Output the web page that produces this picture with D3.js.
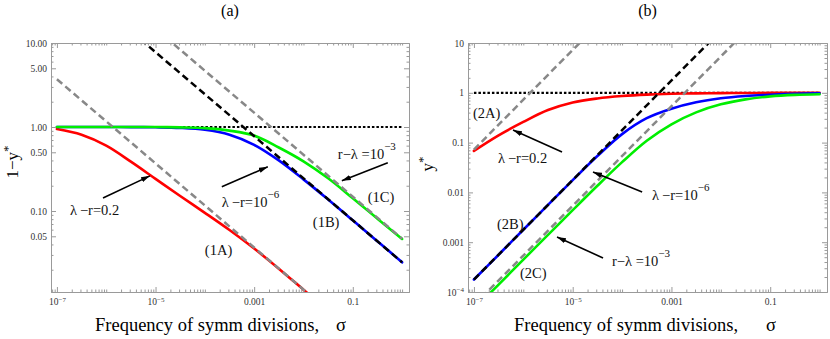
<!DOCTYPE html>
<html>
<head>
<meta charset="utf-8">
<script src="https://cdn.jsdelivr.net/npm/d3@7"></script>
<style>
  body { margin: 0; background: #fff; }
  text { font-family: "Liberation Serif", "Times New Roman", serif; }
</style>
</head>
<body>
<script>
// sample points along sigma (half decades)
const sigma = [1e-7, 3.16e-7, 1e-6, 3.16e-6, 1e-5, 3.16e-5, 1e-4, 3.16e-4,
  1e-3, 3.16e-3, 1e-2, 3.16e-2, 0.1, 0.316, 1];

// panel (a): 1 - y*
const redA = [0.946, 0.809, 0.600, 0.387, 0.2415, 0.1507, 0.0951, 0.0593, 0.0357, 0.0206, 0.01156, 0.0065, null, null, null];
const blueA = [1.0, 0.9997, 0.9992, 0.9974, 0.992, 0.975, 0.926, 0.81, 0.613, 0.40, 0.238, 0.137, 0.0775, 0.0436, 0.0245];
const greenA = [1.0, 1.0, 1.0, 1.0, 0.9996, 0.99, 0.97, 0.905, 0.79, 0.57, 0.39, 0.245, 0.142, 0.081, 0.0465];
const asym1A = [[1e-7, 3.7], [0.02, 0.0082]];
const asym1B = [[5e-6, 11.0], [1, 0.0245]];
const asym1C = [[1.6e-5, 11.7], [1, 0.0468]];

// panel (b): y*
const redB = [0.068, 0.14, 0.26, 0.45, 0.64, 0.77, 0.86, 0.92, 0.955, 0.975, 0.986, 0.992, 0.995, 0.997, 0.998];
const blueB = [1.78e-4, 5.6e-4, 1.78e-3, 5.6e-3, 0.0176, 0.0537, 0.148, 0.309, 0.479, 0.645, 0.776, 0.861, 0.916, 0.955, 0.98];
const greenB = [4.5e-5, 1.41e-4, 4.47e-4, 1.4e-3, 4.4e-3, 0.0136, 0.0405, 0.109, 0.233, 0.405, 0.586, 0.738, 0.847, 0.908, 0.935];
const asym2A = [[1e-7, 0.0724], [1.6e-5, 11.6]];
const asym2B = [[1e-7, 1.78e-4], [0.0065, 11.5]];
const asym2C = [[1e-7, 5.4e-5], [0.02, 10.7]];

const unitLine = [[1e-7, 1], [1, 1]];

// tick labels
const xTicks = [1e-7, 1e-5, 1e-3, 0.1];
const xTickLabels = ["10^−7", "10^−5", "0.001", "0.1"];
const yTicksA = [10, 5, 1, 0.5, 0.1, 0.05];
const yTickLabelsA = ["10.00", "5.00", "1.00", "0.50", "0.10", "0.05"];
const yTicksB = [10, 1, 0.1, 0.01, 0.001, 1e-4];
const yTickLabelsB = ["10", "1", "0.1", "0.01", "0.001", "10^−4"];

// annotations, in data coordinates
const notesA = [
  { at: [1.84e-7, 0.0896], text: "λ\u2009−r=0.2" },
  { at: [2.21e-4, 0.1117], text: "λ\u2009−r=10", sup: "−6" },
  { at: [0.0497, 0.42], text: "r−λ =10", sup: "−3" },
  { at: [1e-4, 0.0297], text: "(1A)" },
  { at: [0.0155, 0.0643], text: "(1B)" },
  { at: [0.201, 0.128], text: "(1C)" }
];
const arrowsA = [
  [[8.6e-7, 0.143], [7.7e-6, 0.262]],
  [[2.21e-4, 0.194], [1.89e-3, 0.336]],
  [[0.513, 0.376], [0.060, 0.2286]]
];
const notesB = [
  { at: [9.55e-8, 0.312], text: "(2A)" },
  { at: [3.07e-7, 0.0389], text: "λ\u2009−r=0.2" },
  { at: [4.06e-4, 7.03e-3], text: "λ\u2009−r=10", sup: "−6" },
  { at: [2.92e-7, 1.84e-3], text: "(2B)" },
  { at: [8.57e-7, 1.91e-4], text: "(2C)" },
  { at: [6.26e-5, 3.33e-4], text: "r−λ =10", sup: "−3" }
];
const arrowsB = [
  [[6.08e-6, 0.0647], [6.18e-7, 0.179]],
  [[2.55e-4, 0.0102], [2.58e-5, 0.0257]],
  [[4.12e-5, 4.82e-4], [4.82e-6, 1.27e-3]]
];

const W = 830, H = 339;
const svg = d3.select("body").append("svg").attr("width", W).attr("height", H);

svg.append("defs").append("marker")
  .attr("id", "arrow")
  .attr("viewBox", "0 0 10 6")
  .attr("refX", 10).attr("refY", 3)
  .attr("markerUnits", "userSpaceOnUse")
  .attr("markerWidth", 9).attr("markerHeight", 5.5)
  .attr("orient", "auto")
  .append("path").attr("d", "M0,0L10,3L0,6Z").attr("fill", "#000");

const minorTicks = (dom, majors) => {
  const out = [];
  for (let n = -9; n <= 2; n++) {
    for (let k = 1; k <= 9; k++) {
      const v = +(k * Math.pow(10, n)).toPrecision(3);
      if (v >= dom[0] && v <= dom[1] && !majors.some(m => Math.abs(m / v - 1) < 1e-6)) out.push(v);
    }
  }
  return out;
};

const supLabels = (sel) => {
  sel.selectAll(".tick text").each(function () {
    const t = d3.select(this), s = t.text();
    if (!s.includes("^")) return;
    const [b, e] = s.split("^");
    t.text(b);
    t.append("tspan").attr("dy", "-0.45em").attr("font-size", "7px").text(e);
  });
};

const styleAxis = (sel) => {
  sel.attr("font-family", null).attr("font-size", null);
  sel.select(".domain").attr("stroke", "#9a9a9a");
  sel.selectAll(".tick line").attr("stroke", "#9a9a9a");
  sel.selectAll(".tick text").attr("fill", "#333").style("font-size", "9.5px");
};

function drawPanel(p) {
  const x = d3.scaleLog().domain(p.xDomain).range([p.left, p.right]);
  const y = d3.scaleLog().domain(p.yDomain).range([p.bottom, p.top]);
  const g = svg.append("g");

  svg.select("defs").append("clipPath").attr("id", "clip-" + p.id)
    .append("rect")
    .attr("x", p.left).attr("y", p.top)
    .attr("width", p.right - p.left).attr("height", p.bottom - p.top);

  const plot = g.append("g").attr("clip-path", `url(#clip-${p.id})`);
  const curve = d3.line()
    .defined(d => d[1] != null)
    .x(d => x(d[0])).y(d => y(d[1]))
    .curve(d3.curveCatmullRom.alpha(0.5));
  const straight = d3.line().x(d => x(d[0])).y(d => y(d[1]));

  plot.append("path").datum(unitLine).attr("d", straight)
    .attr("fill", "none").attr("stroke", "#000")
    .attr("stroke-width", 2.2).attr("stroke-dasharray", "2.5,2");

  p.curves.forEach(c => {
    plot.append("path")
      .datum(sigma.map((s, i) => [s, c.values[i]]))
      .attr("d", curve)
      .attr("fill", "none").attr("stroke", c.color)
      .attr("stroke-width", 2.6).attr("stroke-linecap", "round");
  });

  p.asymptotes.forEach(a => {
    plot.append("path").datum(a.points).attr("d", straight)
      .attr("fill", "none").attr("stroke", a.color)
      .attr("stroke-width", 2.5).attr("stroke-dasharray", "7,4");
  });

  // frame + ticks
  const xMinor = minorTicks(x.domain(), p.xMajor);
  const yMinor = minorTicks(y.domain(), p.yMajor);

  g.append("g").attr("transform", `translate(0,${p.bottom})`)
    .call(d3.axisBottom(x).tickValues(p.xMajor).tickFormat((d, i) => p.xLabels[i])
      .tickSize(-5).tickSizeOuter(0).tickPadding(6))
    .call(styleAxis).call(supLabels);
  g.append("g").attr("transform", `translate(0,${p.bottom})`)
    .call(d3.axisBottom(x).tickValues(xMinor).tickFormat("").tickSize(-2.5).tickSizeOuter(0))
    .call(styleAxis);
  g.append("g").attr("transform", `translate(0,${p.top})`)
    .call(d3.axisTop(x).tickValues(p.xMajor).tickFormat("").tickSize(-5).tickSizeOuter(0))
    .call(styleAxis);
  g.append("g").attr("transform", `translate(0,${p.top})`)
    .call(d3.axisTop(x).tickValues(xMinor).tickFormat("").tickSize(-2.5).tickSizeOuter(0))
    .call(styleAxis);

  g.append("g").attr("transform", `translate(${p.left},0)`)
    .call(d3.axisLeft(y).tickValues(p.yMajor).tickFormat((d, i) => p.yLabels[i])
      .tickSize(-5).tickSizeOuter(0).tickPadding(4))
    .call(styleAxis).call(supLabels);
  g.append("g").attr("transform", `translate(${p.left},0)`)
    .call(d3.axisLeft(y).tickValues(yMinor).tickFormat("").tickSize(-2.5).tickSizeOuter(0))
    .call(styleAxis);
  g.append("g").attr("transform", `translate(${p.right},0)`)
    .call(d3.axisRight(y).tickValues(p.yMajor).tickFormat("").tickSize(-5).tickSizeOuter(0))
    .call(styleAxis);
  g.append("g").attr("transform", `translate(${p.right},0)`)
    .call(d3.axisRight(y).tickValues(yMinor).tickFormat("").tickSize(-2.5).tickSizeOuter(0))
    .call(styleAxis);

  // annotations
  p.arrows.forEach(a => {
    g.append("line")
      .attr("x1", x(a[0][0])).attr("y1", y(a[0][1]))
      .attr("x2", x(a[1][0])).attr("y2", y(a[1][1]))
      .attr("stroke", "#000").attr("stroke-width", 1.6)
      .attr("marker-end", "url(#arrow)");
  });
  p.notes.forEach(n => {
    const t = g.append("text")
      .attr("x", x(n.at[0])).attr("y", y(n.at[1]))
      .attr("font-size", 14.5).attr("fill", "#111").text(n.text);
    if (n.sup) t.append("tspan").attr("dy", -9).attr("font-size", 11).text(n.sup);
  });

  // titles and axis labels
  g.append("text").attr("x", (p.left + p.right) / 2).attr("y", 16)
    .attr("text-anchor", "middle").attr("font-size", 16).text(p.title);

  g.append("text").attr("x", p.xLabelX).attr("y", 331)
    .attr("font-size", 18.5).text("Frequency of symm divisions,");
  g.append("text").attr("x", p.sigmaX).attr("y", 331)
    .attr("font-size", 18.5).text("σ");

  const yl = g.append("text")
    .attr("transform", `translate(${p.yLabelX},${p.yLabelY}) rotate(-90)`)
    .attr("text-anchor", "middle").attr("font-size", 17).text(p.yLabel);
  yl.append("tspan").attr("dy", -6).attr("font-size", 13).text("*");
}

drawPanel({
  id: "a", title: "(a)",
  left: 51, right: 409, top: 43, bottom: 292,
  xDomain: [Math.pow(10, -7.12), Math.pow(10, 0.14)],
  yDomain: [0.01086, 10],
  xMajor: xTicks, xLabels: xTickLabels,
  yMajor: yTicksA, yLabels: yTickLabelsA,
  curves: [
    { values: redA, color: "#ff0000" },
    { values: blueA, color: "#0000ff" },
    { values: greenA, color: "#00ee00" }
  ],
  asymptotes: [
    { points: asym1A, color: "#888" },
    { points: asym1B, color: "#000" },
    { points: asym1C, color: "#888" }
  ],
  notes: notesA, arrows: arrowsA,
  xLabelX: 95, sigmaX: 336,
  yLabel: "1−y", yLabelX: 18, yLabelY: 162
});

drawPanel({
  id: "b", title: "(b)",
  left: 468, right: 827, top: 43, bottom: 292,
  xDomain: [Math.pow(10, -7.12), Math.pow(10, 0.15)],
  yDomain: [1e-4, 10],
  xMajor: xTicks, xLabels: xTickLabels,
  yMajor: yTicksB, yLabels: yTickLabelsB,
  curves: [
    { values: redB, color: "#ff0000" },
    { values: blueB, color: "#0000ff" },
    { values: greenB, color: "#00ee00" }
  ],
  asymptotes: [
    { points: asym2A, color: "#888" },
    { points: asym2B, color: "#000" },
    { points: asym2C, color: "#888" }
  ],
  notes: notesB, arrows: arrowsB,
  xLabelX: 514, sigmaX: 766,
  yLabel: "y", yLabelX: 433, yLabelY: 164
});
</script>
</body>
</html>
